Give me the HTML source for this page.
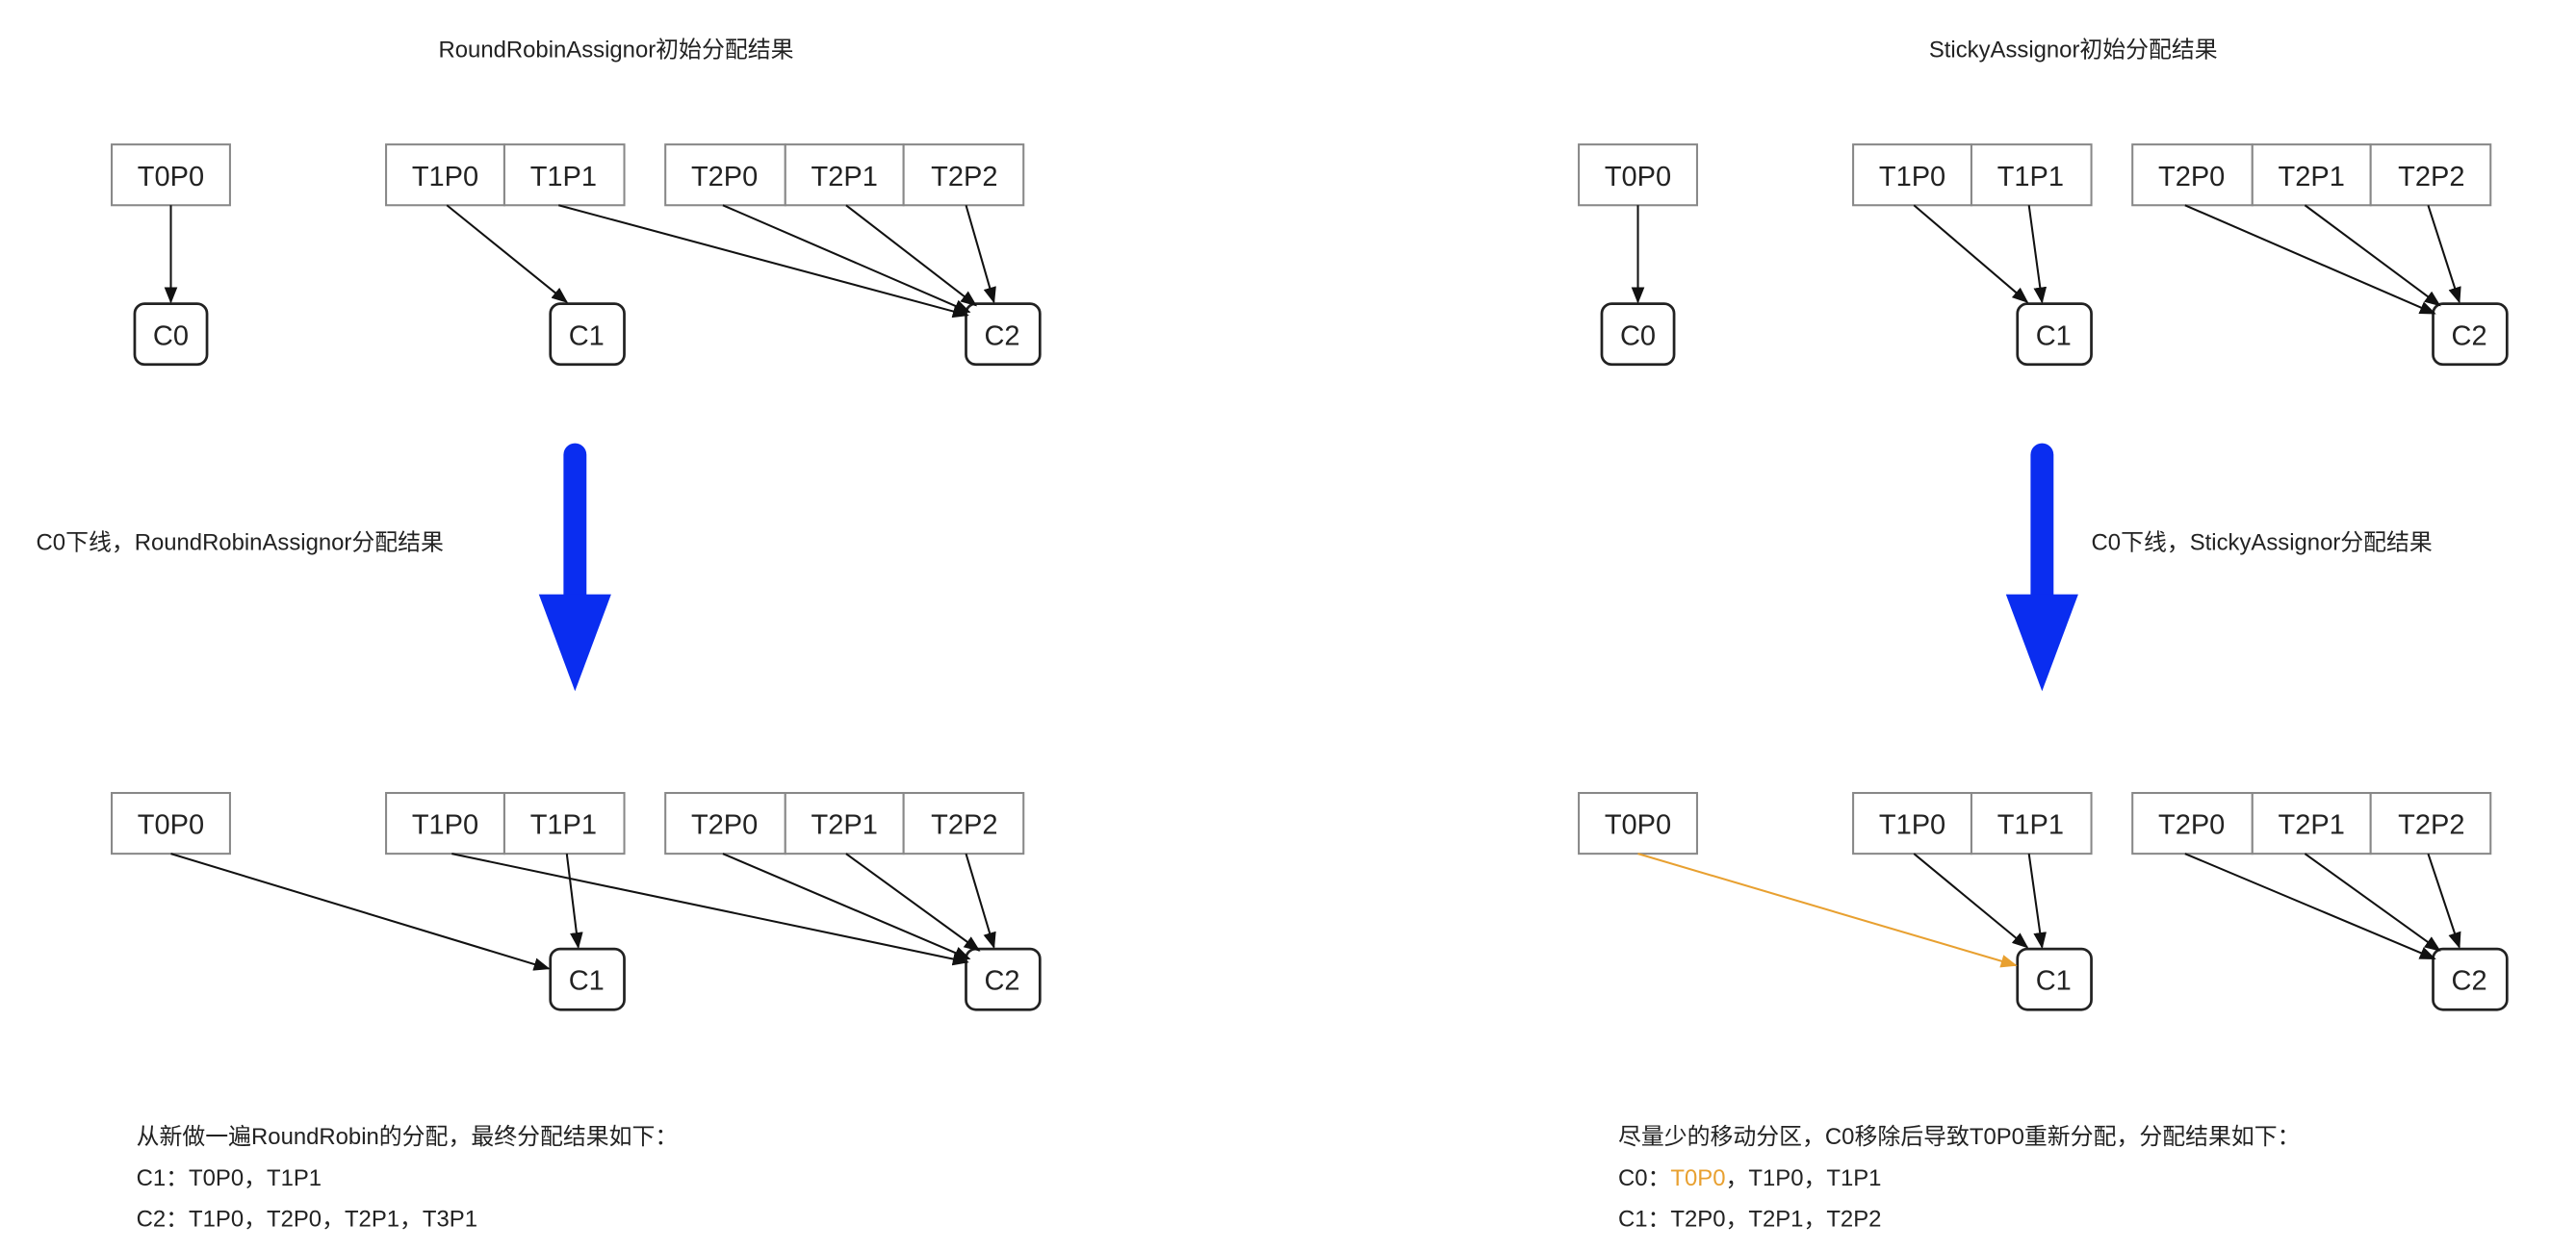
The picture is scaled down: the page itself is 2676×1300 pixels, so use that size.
<!DOCTYPE html>
<html><head><meta charset="utf-8"><style>
html,body{margin:0;padding:0;background:#fff;width:2676px;height:1300px;overflow:hidden}
svg{display:block}
text{font-family:"Liberation Sans","Noto Sans CJK SC",sans-serif;fill:#222}
</style></head><body>
<svg width="2676" height="1300" viewBox="0 0 1568 762" preserveAspectRatio="none" xmlns="http://www.w3.org/2000/svg">
<defs>
<marker id="a" markerWidth="10" markerHeight="8" refX="9" refY="4" orient="auto" markerUnits="userSpaceOnUse"><path d="M0,0 L10,4 L0,8 Z" fill="#111"/></marker>
<marker id="o" markerWidth="10" markerHeight="8" refX="9" refY="4" orient="auto" markerUnits="userSpaceOnUse"><path d="M0,0 L10,4 L0,8 Z" fill="#e8a030"/></marker>
<g id="boxes">
<g fill="#fff" stroke="#888" stroke-width="1.2">
<rect x="68" y="0" width="72" height="37"/>
<rect x="235" y="0" width="72" height="37"/><rect x="307" y="0" width="73" height="37"/>
<rect x="405" y="0" width="73" height="37"/><rect x="478" y="0" width="72" height="37"/><rect x="550" y="0" width="73" height="37"/>
</g>
<g font-size="17" text-anchor="middle">
<text x="104" y="25">T0P0</text>
<text x="271" y="25">T1P0</text><text x="343" y="25">T1P1</text>
<text x="441" y="25">T2P0</text><text x="514" y="25">T2P1</text><text x="587" y="25">T2P2</text>
</g>
</g>
<g id="cs">
<g fill="#fff" stroke="#222" stroke-width="1.6">
<rect x="335" y="0" width="45" height="37" rx="6"/><rect x="588" y="0" width="45" height="37" rx="6"/>
</g>
<g font-size="17" text-anchor="middle"><text x="357" y="25">C1</text><text x="610" y="25">C2</text></g>
</g>
<g id="c0">
<rect x="82" y="0" width="44" height="37" rx="6" fill="#fff" stroke="#222" stroke-width="1.6"/>
<text x="104" y="25" font-size="17" text-anchor="middle">C0</text>
</g>
<g id="blue">
<rect x="343" y="270" width="14" height="100" rx="7" fill="#0a2df0"/>
<path d="M328,362 L372,362 L350,421 Z" fill="#0a2df0"/>
</g>
</defs>

<!-- LEFT -->
<text x="375" y="35" font-size="14" text-anchor="middle">RoundRobinAssignor初始分配结果</text>
<use href="#boxes" y="88"/>
<use href="#c0" y="185"/><use href="#cs" y="185"/>
<g stroke="#111" stroke-width="1.2" fill="none" marker-end="url(#a)">
<line x1="104" y1="125" x2="104" y2="184"/>
<line x1="272" y1="125" x2="345" y2="184"/>
<line x1="340" y1="125" x2="589" y2="192"/>
<line x1="440" y1="125" x2="590" y2="190"/>
<line x1="515" y1="125" x2="594" y2="186"/>
<line x1="588" y1="125" x2="605" y2="184"/>
</g>
<use href="#blue"/>
<text x="22" y="335" font-size="14">C0下线，RoundRobinAssignor分配结果</text>
<use href="#boxes" y="483"/>
<use href="#cs" y="578"/>
<g stroke="#111" stroke-width="1.2" fill="none" marker-end="url(#a)">
<line x1="104" y1="520" x2="334" y2="590"/>
<line x1="275" y1="520" x2="589" y2="586"/>
<line x1="345" y1="520" x2="352" y2="577"/>
<line x1="440" y1="520" x2="590" y2="584"/>
<line x1="515" y1="520" x2="596" y2="579"/>
<line x1="588" y1="520" x2="605" y2="577"/>
</g>
<g font-size="14"><text x="83" y="697">从新做一遍RoundRobin的分配，最终分配结果如下：</text>
<text x="83" y="722">C1：T0P0，T1P1</text>
<text x="83" y="747">C2：T1P0，T2P0，T2P1，T3P1</text></g>

<!-- RIGHT -->
<g transform="translate(893,0)">
<text x="369" y="35" font-size="14" text-anchor="middle">StickyAssignor初始分配结果</text>
<use href="#boxes" y="88"/>
<use href="#c0" y="185"/><use href="#cs" y="185"/>
<g stroke="#111" stroke-width="1.2" fill="none" marker-end="url(#a)">
<line x1="104" y1="125" x2="104" y2="184"/>
<line x1="272" y1="125" x2="341" y2="184"/>
<line x1="342" y1="125" x2="350" y2="184"/>
<line x1="437" y1="125" x2="589" y2="191"/>
<line x1="510" y1="125" x2="592" y2="186"/>
<line x1="585" y1="125" x2="604" y2="184"/>
</g>
<use href="#blue"/>
<text x="380" y="335" font-size="14">C0下线，StickyAssignor分配结果</text>
<use href="#boxes" y="483"/>
<use href="#cs" y="578"/>
<g stroke="#111" stroke-width="1.2" fill="none" marker-end="url(#a)">
<line x1="272" y1="520" x2="341" y2="577"/>
<line x1="342" y1="520" x2="350" y2="577"/>
<line x1="437" y1="520" x2="589" y2="584"/>
<line x1="510" y1="520" x2="592" y2="579"/>
<line x1="585" y1="520" x2="604" y2="577"/>
</g>
<line x1="104" y1="520" x2="334" y2="588" stroke="#e8a030" stroke-width="1.2" marker-end="url(#o)"/>
<g font-size="14"><text x="92" y="697">尽量少的移动分区，C0移除后导致T0P0重新分配，分配结果如下：</text>
<text x="92" y="722">C0：<tspan fill="#e8a030">T0P0</tspan>，T1P0，T1P1</text>
<text x="92" y="747">C1：T2P0，T2P1，T2P2</text></g>
</g>
</svg>
</body></html>
